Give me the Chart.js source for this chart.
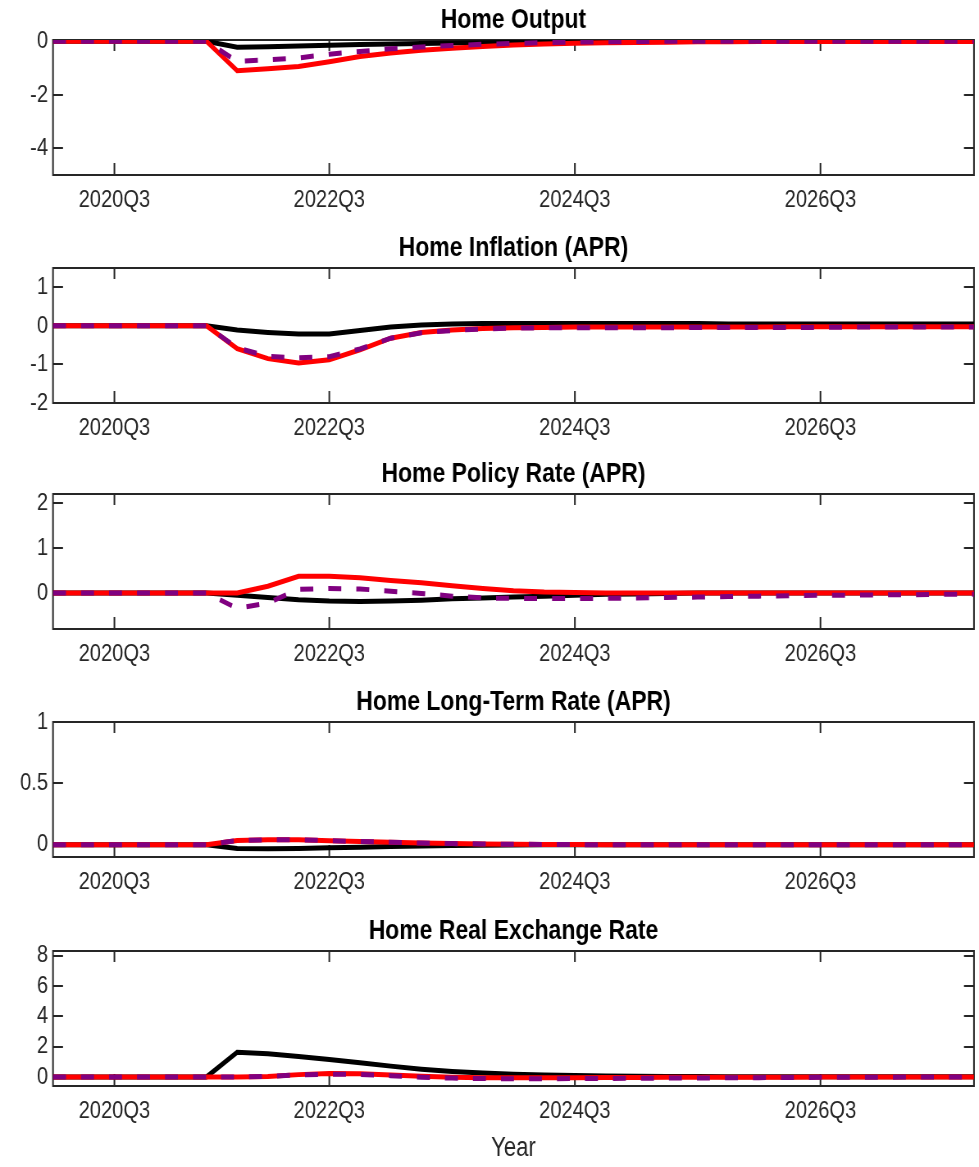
<!DOCTYPE html>
<html>
<head>
<meta charset="utf-8">
<script src="https://cdn.jsdelivr.net/npm/chart.js@4.4.1/dist/chart.umd.min.js"></script>
<style>
  body { margin: 0; background: #fff; overflow: hidden; }
  /* the source figure is horizontally squeezed, so the canvas is drawn wide and squeezed back */
  .panel { position: absolute; left: 0; width: 1194px; transform: scaleX(0.8199); transform-origin: 0 0; }
</style>
</head>
<body>
<div class="panel" style="top:0px;height:220px"><canvas id="c1"></canvas></div>
<div class="panel" style="top:228px;height:220px"><canvas id="c2"></canvas></div>
<div class="panel" style="top:454px;height:220px"><canvas id="c3"></canvas></div>
<div class="panel" style="top:682px;height:220px"><canvas id="c4"></canvas></div>
<div class="panel" style="top:911px;height:256px"><canvas id="c5"></canvas></div>
<script>
// quarter index along the x axis (31 quarters)
const quarters = [0, 1, 2, 3, 4, 5, 6, 7, 8, 9, 10, 11, 12, 13, 14, 15, 16, 17, 18, 19, 20, 21, 22, 23, 24, 25, 26, 27, 28, 29, 30];
const tickPositions = [2, 9, 17, 25];
const tickLabels = ["2020Q3", "2022Q3", "2024Q3", "2026Q3"];

const outputBlack = [0, 0, 0, 0, 0, 0, -0.22, -0.2, -0.17, -0.15, -0.12, -0.1, -0.08, -0.06, -0.05, -0.04, -0.03, -0.02, -0.02, -0.01, -0.01, 0, 0, 0, 0, 0, 0, 0, 0, 0, 0];
const outputRed = [0, 0, 0, 0, 0, 0, -1.1, -1.03, -0.94, -0.76, -0.57, -0.44, -0.33, -0.26, -0.19, -0.14, -0.1, -0.07, -0.05, -0.04, -0.03, -0.02, -0.02, -0.01, -0.01, -0.01, -0.01, -0.01, -0.01, -0.01, -0.01];
const outputPurple = [0, 0, 0, 0, 0, 0, -0.75, -0.69, -0.62, -0.48, -0.38, -0.28, -0.21, -0.16, -0.11, -0.08, -0.05, -0.03, -0.02, -0.01, 0, 0, 0, 0, 0, 0, 0, 0, 0, 0, 0];

const inflationBlack = [0, 0, 0, 0, 0, 0, -0.11, -0.17, -0.21, -0.21, -0.12, -0.03, 0.02, 0.05, 0.06, 0.06, 0.06, 0.06, 0.06, 0.06, 0.06, 0.06, 0.05, 0.05, 0.05, 0.05, 0.05, 0.05, 0.05, 0.05, 0.05];
const inflationRed = [0, 0, 0, 0, 0, 0, -0.59, -0.85, -0.96, -0.88, -0.62, -0.32, -0.17, -0.11, -0.07, -0.05, -0.04, -0.03, -0.03, -0.03, -0.03, -0.03, -0.03, -0.03, -0.02, -0.02, -0.02, -0.02, -0.02, -0.02, -0.02];
const inflationPurple = [0, 0, 0, 0, 0, 0, -0.57, -0.79, -0.83, -0.8, -0.6, -0.32, -0.18, -0.12, -0.08, -0.06, -0.05, -0.05, -0.05, -0.05, -0.05, -0.04, -0.04, -0.04, -0.04, -0.04, -0.03, -0.03, -0.03, -0.03, -0.03];

const policyBlack = [0, 0, 0, 0, 0, 0, -0.05, -0.1, -0.15, -0.18, -0.19, -0.18, -0.16, -0.13, -0.11, -0.09, -0.07, -0.05, -0.03, -0.02, -0.01, 0, 0, 0, 0, 0, 0, 0, 0, 0, 0];
const policyRed = [0, 0, 0, 0, 0, 0, 0, 0.15, 0.37, 0.37, 0.34, 0.28, 0.23, 0.16, 0.1, 0.05, 0.02, 0.01, 0, 0, 0, 0, 0, 0, 0, 0, 0, 0, 0, 0, 0];
const policyPurple = [0, 0, 0, 0, 0, 0, -0.34, -0.22, 0.08, 0.1, 0.09, 0.04, -0.01, -0.07, -0.11, -0.12, -0.12, -0.12, -0.12, -0.11, -0.1, -0.09, -0.08, -0.07, -0.06, -0.05, -0.05, -0.04, -0.04, -0.03, -0.03];

const longRateBlack = [0, 0, 0, 0, 0, 0, -0.03, -0.033, -0.03, -0.025, -0.02, -0.015, -0.01, -0.007, -0.004, -0.002, 0, 0, 0, 0, 0, 0, 0, 0, 0, 0, 0, 0, 0, 0, 0];
const longRateRed = [0, 0, 0, 0, 0, 0, 0.035, 0.04, 0.04, 0.033, 0.026, 0.02, 0.014, 0.009, 0.006, 0.004, 0.002, 0.001, 0, 0, 0, 0, 0, 0, 0, 0, 0, 0, 0, 0, 0];
const longRatePurple = [0, 0, 0, 0, 0, 0, 0.035, 0.04, 0.04, 0.033, 0.026, 0.02, 0.014, 0.009, 0.006, 0.004, 0.002, 0.001, 0, 0, 0, 0, 0, 0, 0, 0, 0, 0, 0, 0, 0];

const rerBlack = [0, 0, 0, 0, 0, 0, 1.63, 1.52, 1.35, 1.15, 0.93, 0.71, 0.51, 0.36, 0.25, 0.18, 0.13, 0.09, 0.06, 0.04, 0.03, 0.02, 0.01, 0.01, 0.01, 0.01, 0.01, 0.01, 0.01, 0.01, 0.01];
const rerRed = [0, 0, 0, 0, 0, 0, 0, 0.03, 0.15, 0.22, 0.2, 0.12, 0.04, -0.02, -0.05, -0.06, -0.06, -0.05, -0.04, -0.04, -0.03, -0.03, -0.02, -0.02, -0.02, -0.01, -0.01, -0.01, 0, 0, 0];
const rerPurple = [0, 0, 0, 0, 0, 0, 0, 0.03, 0.13, 0.18, 0.16, 0.08, -0.02, -0.08, -0.11, -0.12, -0.12, -0.11, -0.1, -0.09, -0.08, -0.07, -0.06, -0.05, -0.04, -0.03, -0.03, -0.02, -0.01, -0.01, 0];

const panels = [
  { id: "c1", title: "Home Output", min: -5, max: 0.05, yTicks: [-4, -2, 0], black: outputBlack, red: outputRed, purple: outputPurple },
  { id: "c2", title: "Home Inflation (APR)", min: -2, max: 1.5, yTicks: [-2, -1, 0, 1], black: inflationBlack, red: inflationRed, purple: inflationPurple },
  { id: "c3", title: "Home Policy Rate (APR)", min: -0.8, max: 2.2, yTicks: [0, 1, 2], black: policyBlack, red: policyRed, purple: policyPurple },
  { id: "c4", title: "Home Long-Term Rate (APR)", min: -0.1, max: 1, yTicks: [0, 0.5, 1], black: longRateBlack, red: longRateRed, purple: longRatePurple },
  { id: "c5", title: "Home Real Exchange Rate", min: -0.6, max: 8.3, yTicks: [0, 2, 4, 6, 8], black: rerBlack, red: rerRed, purple: rerPurple, xTitle: "Year" },
];

const SQUEEZE = 0.8199;
const FONT = '"Liberation Sans", Arial, sans-serif';

// matlab-like box with inward ticks on all four sides
const framePlugin = {
  id: "frame",
  beforeDatasetsDraw(chart) {
    const { ctx, chartArea: a, scales } = chart;
    const x = scales.x, y = scales.y;
    ctx.save();
    ctx.strokeStyle = "#262626";
    ctx.lineWidth = 2;
    ctx.beginPath();
    x.ticks.forEach((t) => {
      const px = x.getPixelForValue(t.value);
      ctx.moveTo(px, a.bottom); ctx.lineTo(px, a.bottom - 12);
      ctx.moveTo(px, a.top); ctx.lineTo(px, a.top + 11);
    });
    y.ticks.forEach((t) => {
      const py = Math.round(y.getPixelForValue(t.value));
      ctx.moveTo(a.left, py); ctx.lineTo(a.left + 10 / SQUEEZE, py);
      ctx.moveTo(a.right, py); ctx.lineTo(a.right - 10 / SQUEEZE, py);
    });
    ctx.stroke();
    ctx.lineWidth = 2;
    ctx.strokeRect(a.left, a.top, a.right - a.left, a.bottom - a.top);
    ctx.restore();
  },
};

function makeLine(data, color, dash, order) {
  return {
    data,
    borderColor: color,
    borderWidth: 5,
    borderDash: dash,
    pointRadius: 0,
    tension: 0,
    fill: false,
    order,
  };
}

panels.forEach((p) => {
  new Chart(document.getElementById(p.id), {
    type: "line",
    data: {
      labels: quarters,
      datasets: [
        makeLine(p.black, "#000000", [], 3),
        makeLine(p.red, "#ff0000", [], 2),
        makeLine(p.purple, "#800080", [13 / SQUEEZE, 15 / SQUEEZE], 1),
      ],
    },
    options: {
      animation: false,
      responsive: true,
      maintainAspectRatio: false,
      layout: { padding: { left: 0, right: 5 / SQUEEZE, top: 0, bottom: 0 } },
      plugins: {
        legend: { display: false },
        tooltip: { enabled: false },
        title: {
          display: true,
          text: p.title,
          fullSize: false,
          color: "#000",
          font: { family: FONT, size: 28, weight: "bold" },
          padding: { top: 3, bottom: 3.4 },
        },
      },
      scales: {
        x: {
          type: "linear",
          min: 0,
          max: 30,
          grid: { display: false, drawTicks: false },
          border: { display: false },
          afterBuildTicks: (scale) => { scale.ticks = tickPositions.map((v) => ({ value: v })); },
          afterFit: (scale) => { scale.height = p.xTitle ? 81 : 45; },
          ticks: {
            autoSkip: false,
            maxRotation: 0,
            padding: 11,
            color: "#262626",
            font: { family: FONT, size: 24.5 },
            callback: (v) => tickLabels[tickPositions.indexOf(v)],
          },
          title: {
            display: !!p.xTitle,
            text: p.xTitle || "",
            color: "#262626",
            font: { family: FONT, size: 27 },
            padding: 2,
          },
        },
        y: {
          min: p.min,
          max: p.max,
          grid: { display: false, drawTicks: false },
          border: { display: false },
          afterBuildTicks: (scale) => { scale.ticks = p.yTicks.map((v) => ({ value: v })); },
          afterFit: (scale) => { scale.width = 53 / SQUEEZE; },
          ticks: {
            padding: 5 / SQUEEZE,
            color: "#262626",
            font: { family: FONT, size: 24.5 },
            callback: (v) => String(v),
          },
        },
      },
    },
    plugins: [framePlugin],
  });
});
</script>
</body>
</html>
